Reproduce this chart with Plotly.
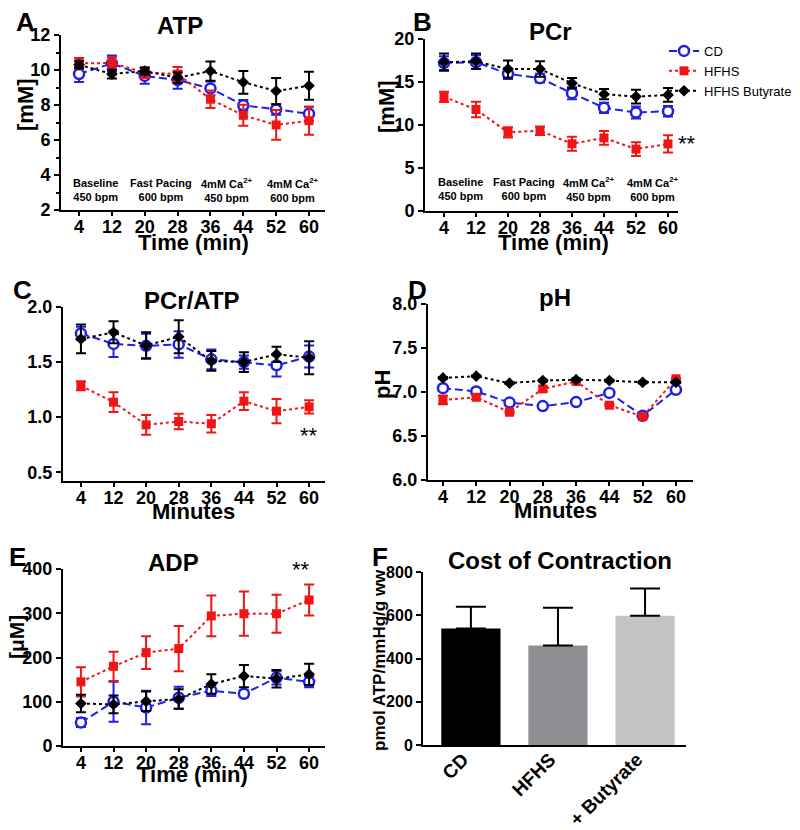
import plotly.graph_objects as go

# Data
minutes = [4, 12, 20, 28, 36, 44, 52, 60]

atp_cd = [9.77, 10.38, 9.66, 9.43, 8.95, 7.98, 7.75, 7.5]
atp_cd_err = [0.45, 0.45, 0.45, 0.5, 0.4, 0.3, 0.3, 0.4]
atp_hfhs = [10.38, 10.4, 9.85, 9.77, 8.33, 7.41, 6.86, 7.1]
atp_hfhs_err = [0.3, 0.35, 0.3, 0.4, 0.5, 0.6, 0.85, 0.8]
atp_but = [10.3, 9.77, 9.94, 9.56, 9.94, 9.3, 8.8, 9.1]
atp_but_err = [0.2, 0.25, 0.2, 0.3, 0.55, 0.65, 0.75, 0.8]

pcr_cd = [17.2, 17.3, 15.95, 15.45, 13.7, 12.0, 11.45, 11.6]
pcr_cd_err = [0.8, 0.8, 0.6, 0.5, 0.7, 0.6, 0.7, 0.6]
pcr_hfhs = [13.27, 11.8, 9.15, 9.34, 7.82, 8.5, 7.2, 7.8]
pcr_hfhs_err = [0.6, 0.9, 0.6, 0.5, 0.8, 0.8, 0.8, 1.0]
pcr_but = [17.3, 17.4, 16.5, 16.5, 14.86, 13.58, 13.3, 13.5]
pcr_but_err = [1.0, 0.9, 1.0, 0.9, 0.6, 0.6, 0.8, 0.8]

ratio_cd = [1.76, 1.665, 1.647, 1.66, 1.525, 1.5, 1.47, 1.55]
ratio_cd_err = [0.06, 0.12, 0.11, 0.12, 0.09, 0.06, 0.1, 0.1]
ratio_hfhs = [1.285, 1.136, 0.93, 0.96, 0.94, 1.145, 1.054, 1.093]
ratio_hfhs_err = [0.04, 0.09, 0.09, 0.07, 0.08, 0.08, 0.11, 0.06]
ratio_but = [1.71, 1.77, 1.65, 1.73, 1.51, 1.5, 1.57, 1.54]
ratio_but_err = [0.13, 0.1, 0.12, 0.15, 0.09, 0.09, 0.07, 0.15]

ph_cd = [7.044, 7.006, 6.88, 6.84, 6.885, 6.99, 6.73, 7.025]
ph_cd_err = [0.01, 0.03, 0.03, 0.03, 0.01, 0.03, 0.01, 0.01]
ph_hfhs = [6.91, 6.94, 6.77, 7.035, 7.12, 6.85, 6.72, 7.15]
ph_hfhs_err = [0.05, 0.02, 0.01, 0.03, 0.01, 0.01, 0.01, 0.01]
ph_but = [7.16, 7.18, 7.1, 7.13, 7.14, 7.13, 7.11, 7.11]
ph_but_err = [0.01, 0.01, 0.01, 0.01, 0.01, 0.01, 0.01, 0.01]

adp_cd = [53, 100, 87, 109, 125, 118, 154, 145]
adp_cd_err = [10, 45, 38, 25, 12, 8, 15, 12]
adp_hfhs = [145, 180, 211, 220, 294, 299, 299, 330]
adp_hfhs_err = [33, 33, 37, 51, 46, 50, 43, 35]
adp_but = [96, 94, 101, 106, 140, 158, 152, 162]
adp_but_err = [20, 20, 22, 22, 22, 25, 20, 24]

cost_groups = ["CD", "HFHS", "+ Butyrate"]
cost_values = [539, 460, 598]
cost_err = [100, 175, 126]
cost_colors = ["#000000", "#8e8e92", "#c4c5c3"]

phase_labels = ["Baseline<br>450 bpm", "Fast Pacing<br>600 bpm",
                "4mM Ca<sup>2+</sup><br>450 bpm", "4mM Ca<sup>2+</sup><br>600 bpm"]
phase_x = [8, 24, 40, 56]

FONT = "Liberation Sans"
OFF = 8  # page body margin
W, H = 800 - OFF, 830 - OFF


def px_x(p):
    return (p - OFF) / W


def px_y(p):
    return 1 - (p - OFF) / H


fig = go.Figure()

# pixel boxes of each time-course panel
panels = {
    "A": dict(ax="", xpx=(61, 325), ypx=(35, 210), xr=[-0.4, 63.9], yr=[2, 12], dt=2, minor=1),
    "B": dict(ax="2", xpx=(425, 678), ypx=(39, 211), xr=[-0.75, 62.5], yr=[0, 20], dt=5, minor=None),
    "C": dict(ax="3", xpx=(63, 325), ypx=(307, 481), xr=[-0.4, 63.9], yr=[0.42, 2.0], dt=0.5, minor=None),
    "D": dict(ax="4", xpx=(428, 693), ypx=(304, 480), xr=[0.4, 64.1], yr=[6, 8], dt=0.5, minor=None),
    "E": dict(ax="5", xpx=(63, 325), ypx=(569, 746), xr=[-0.4, 63.9], yr=[0, 400], dt=100, minor=None),
}

series = {
    "A": (atp_cd, atp_cd_err, atp_hfhs, atp_hfhs_err, atp_but, atp_but_err),
    "B": (pcr_cd, pcr_cd_err, pcr_hfhs, pcr_hfhs_err, pcr_but, pcr_but_err),
    "C": (ratio_cd, ratio_cd_err, ratio_hfhs, ratio_hfhs_err, ratio_but, ratio_but_err),
    "D": (ph_cd, ph_cd_err, ph_hfhs, ph_hfhs_err, ph_but, ph_but_err),
    "E": (adp_cd, adp_cd_err, adp_hfhs, adp_hfhs_err, adp_but, adp_but_err),
}

axis_common = dict(showline=True, linecolor="black", linewidth=2, ticks="outside",
                   ticklen=5, tickwidth=2, tickcolor="black", showgrid=False, zeroline=False,
                   automargin=False,
                   tickfont=dict(family=FONT, size=18, color="black", weight="bold"))

for key, p in panels.items():
    ax = p["ax"]
    xa = "x" + ax
    ya = "y" + ax
    cd, cd_e, hf, hf_e, bu, bu_e = series[key]
    show = key == "B"
    fig.add_trace(go.Scatter(
        x=minutes, y=cd, xaxis=xa, yaxis=ya, name="CD", showlegend=show, legendrank=1,
        mode="lines+markers", line=dict(color="#1f1fe6", width=2, dash="8px,4px"),
        marker=dict(symbol="circle", size=10, color="white", line=dict(color="#1f1fe6", width=2.5)),
        error_y=dict(type="data", array=cd_e, color="#1f1fe6", thickness=2, width=5)))
    fig.add_trace(go.Scatter(
        x=minutes, y=hf, xaxis=xa, yaxis=ya, name="HFHS", showlegend=show, legendrank=2,
        mode="lines+markers", line=dict(color="#f01414", width=2, dash="dot"),
        marker=dict(symbol="square", size=9, color="#f01414"),
        error_y=dict(type="data", array=hf_e, color="#f01414", thickness=2, width=5)))
    fig.add_trace(go.Scatter(
        x=minutes, y=bu, xaxis=xa, yaxis=ya, name="HFHS Butyrate", showlegend=show, legendrank=3,
        mode="lines+markers", line=dict(color="black", width=2, dash="dot"),
        marker=dict(symbol="diamond", size=9, color="black"),
        error_y=dict(type="data", array=bu_e, color="black", thickness=2, width=5)))

    xkey = "xaxis" + ax
    ykey = "yaxis" + ax
    yaxis = dict(axis_common, domain=[px_y(p["ypx"][1]), px_y(p["ypx"][0])], range=p["yr"],
                 dtick=p["dt"], tick0=0, anchor=xa)
    if key in ("C", "D"):
        yaxis["tickformat"] = ".1f"
    if p["minor"]:
        yaxis["minor"] = dict(ticks="outside", ticklen=3, dtick=p["minor"], tickcolor="black")
    fig.layout[xkey] = dict(axis_common, domain=[px_x(p["xpx"][0]), px_x(p["xpx"][1])],
                            range=p["xr"], tickvals=minutes, anchor=ya, ticklen=4,
                            ticklabelstandoff=-5)
    fig.layout[ykey] = yaxis

# Panel F bars
fig.add_trace(go.Bar(
    x=cost_groups, y=cost_values, xaxis="x6", yaxis="y6", showlegend=False,
    marker=dict(color=cost_colors, line=dict(width=0)), width=0.68,
    error_y=dict(type="data", array=cost_err, arrayminus=[0, 0, 0], symmetric=False,
                 color="black", thickness=2, width=15)))
fig.layout["xaxis6"] = dict(axis_common, domain=[px_x(423), px_x(686)], range=[-0.55, 2.47],
                            anchor="y6", ticks="", tickangle=-45, ticklabelstandoff=-6,
                            ticklabelshift=-8,
                            tickfont=dict(family=FONT, size=19, color="black", weight="bold"))
fig.layout["yaxis6"] = dict(axis_common, domain=[px_y(745), px_y(572)], range=[0, 800],
                            dtick=200, anchor="x6",
                            tickfont=dict(family=FONT, size=16, color="black", weight="bold"))

ann = []


def text(x, y, s, size, bold=True, angle=0, xanchor="center"):
    ann.append(dict(x=px_x(x), y=px_y(y), xref="paper", yref="paper", text=s, showarrow=False,
                    textangle=angle, xanchor=xanchor, yanchor="middle",
                    font=dict(family=FONT, size=size, color="black", weight="bold" if bold else "normal")))


# panel letters
for lt, x, y in [("A", 25, 22), ("B", 422, 22), ("C", 22, 290), ("D", 418, 290), ("E", 17, 557), ("F", 380, 557)]:
    text(x, y, lt, 26)
# titles
for s, x, y in [("ATP", 180, 25), ("PCr", 550, 32), ("PCr/ATP", 192, 300), ("pH", 555, 297),
                ("ADP", 173, 562), ("Cost of Contraction", 560, 560)]:
    text(x, y, s, 24)
# axis titles
text(193, 242, "Time (min)", 22)
text(553, 242, "Time (min)", 22)
text(193, 511, "Minutes", 22)
text(555, 510, "Minutes", 22)
text(192, 774, "Time (min)", 22)
text(25, 105, "[mM]", 22, angle=-90)
text(386, 107, "[mM]", 22, angle=-90)
text(383, 385, "pH", 22, angle=-90)
text(16, 637, "[μM]", 21, angle=-90)
text(379, 660, "pmol ATP/mmHg/g ww", 17, angle=-90)

# phase labels in A and B
for lbl, xv in zip(phase_labels, phase_x):
    for xa, ya, yv in [("x", "y", 3.15), ("x2", "y2", 2.6)]:
        ann.append(dict(x=xv, y=yv, xref=xa, yref=ya, text=lbl, showarrow=False,
                        font=dict(family=FONT, size=11, color="black", weight="bold")))

# significance marks
ann.append(dict(x=60, y=7.8, xref="x2", yref="y2", text="**", showarrow=False, xanchor="left",
                xshift=8, font=dict(family=FONT, size=22, color="black")))
ann.append(dict(x=60, y=0.83, xref="x3", yref="y3", text="**", showarrow=False,
                font=dict(family=FONT, size=22, color="black")))
ann.append(dict(x=58, y=398, xref="x5", yref="y5", text="**", showarrow=False,
                font=dict(family=FONT, size=22, color="black")))

fig.update_layout(
    width=W, height=H, margin=dict(l=0, r=0, t=0, b=0, autoexpand=False),
    paper_bgcolor="white", plot_bgcolor="white", annotations=ann,
    legend=dict(x=px_x(664), y=px_y(36), xanchor="left", yanchor="top", tracegroupgap=0,
                font=dict(family=FONT, size=13, color="black"), bgcolor="rgba(0,0,0,0)",
                itemwidth=30),
)

fig.write_html("out.html")
